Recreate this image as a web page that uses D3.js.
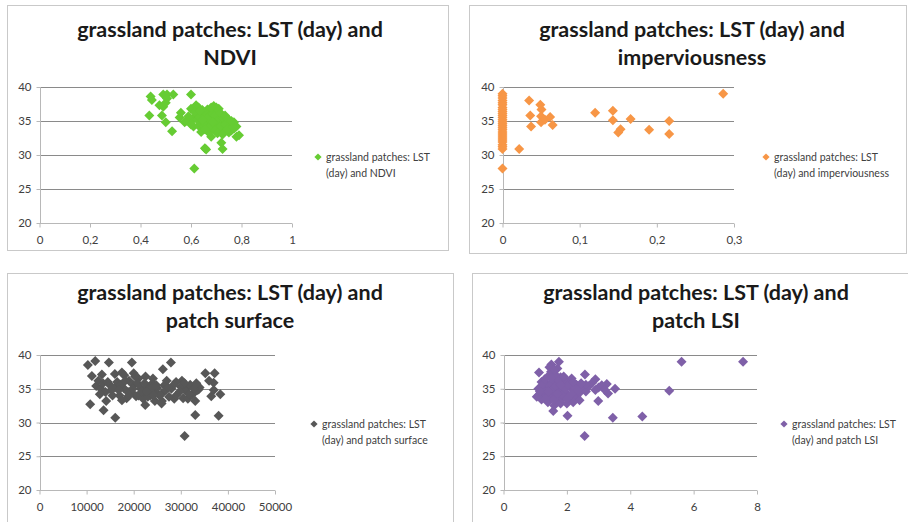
<!DOCTYPE html>
<html>
<head>
<meta charset="utf-8">
<script src="https://cdn.jsdelivr.net/npm/d3@7"></script>
<style>
  body { margin: 0; background: #fff; }
  svg { display: block; }
</style>
</head>
<body>
<svg id="chart" width="908" height="522"></svg>
<script>
// LST (day) of grassland patches against four landscape variables
const ndviPts = [
  [0.44,38.6],[0.445,38.1],[0.435,35.8],[0.49,38.9],[0.505,38.9],[0.53,38.9],[0.475,37.3],[0.49,37.1],
  [0.5,37.7],[0.505,38.3],[0.485,35.8],[0.5,34.8],[0.525,33.5],[0.6,38.9],[0.56,36.2],[0.555,35.5],
  [0.575,34.8],[0.61,34.2],[0.613,28.0],[0.655,31.0],[0.66,30.8],[0.72,31.8],[0.725,30.9],[0.78,32.7],
  [0.79,32.9],[0.68,32.7],[0.6,36.8],[0.62,37.3],[0.63,37.0],[0.61,35.3],[0.69,37.2],[0.71,36.8],
  [0.68,36.3],[0.64,36.0],[0.65,35.5],[0.66,35.0],[0.67,34.5],[0.7,34.0],[0.72,33.5],[0.74,34.2],
  [0.76,34.5],[0.77,33.9],[0.75,33.3],[0.73,35.0],[0.7,35.6],[0.69,35.0],[0.66,34.0],[0.64,34.8],
  [0.62,35.8],[0.63,34.3],[0.68,33.8],[0.71,34.7],[0.75,35.2],[0.72,36.0],[0.7,36.5],[0.665,36.7],
  [0.58,35.0],[0.59,35.7],[0.6,34.5],[0.67,33.3],[0.73,33.8],[0.76,33.6],[0.74,34.8],[0.65,34.2],
  [0.68,35.3],[0.71,35.2],[0.69,34.4],[0.64,33.4],[0.72,34.5],[0.755,34.0],[0.66,36.1],[0.675,35.8],
  [0.78,34.2],[0.77,34.8],
  [0.615,36.3],[0.625,35.2],[0.635,35.6],[0.645,36.6],[0.655,34.6],[0.665,35.4],[0.675,34.2],
  [0.685,36.0],[0.695,35.8],[0.705,35.0],[0.715,34.2],[0.725,35.5],[0.735,34.5],[0.745,33.8],
  [0.765,34.1],[0.695,33.6],[0.705,33.2],[0.715,36.2],[0.725,33.0],[0.685,34.8],[0.655,33.8],
  [0.645,35.2],[0.735,35.8],[0.745,35.3],[0.76,35.0],[0.7,37.0],[0.68,37.0],[0.635,36.5]
];

const impervPts = [
  [0,39.0],[0,38.7],[0,38.4],[0,38.0],[0,37.7],[0,37.4],[0,37.0],[0,36.7],[0,36.4],[0,36.1],
  [0,35.8],[0,35.5],[0,35.2],[0,34.9],[0,34.6],[0,34.3],[0,34.0],[0,33.7],[0,33.4],[0,33.1],
  [0,32.8],[0,32.5],[0,32.2],[0,31.9],[0,31.5],[0,31.2],[0,30.9],[0,28.0],
  [0.0345,38.0],[0.036,35.8],[0.037,34.2],[0.0216,30.9],[0.049,37.4],[0.0505,36.7],[0.05,35.7],
  [0.05,34.8],[0.055,35.2],[0.0617,35.6],[0.065,34.4],[0.12,36.2],[0.143,36.5],[0.143,35.1],
  [0.15,33.3],[0.153,33.8],[0.166,35.3],[0.19,33.7],[0.216,35.0],[0.216,33.1],[0.286,39.0]
];

const surfacePts = [
  [10270,38.5],[11830,39.1],[10760,32.7],[11120,36.9],[12040,35.4],[13600,31.8],[14160,33.2],
  [13240,37.1],[14730,38.9],[16080,30.7],[17490,37.4],[19610,38.9],[22450,32.6],[24080,36.5],
  [26200,37.9],[27900,38.9],[25920,32.8],[28610,33.5],[30810,28.0],[35200,37.3],[37180,37.3],
  [36470,33.9],[38030,31.0],[38390,34.2],[33070,31.1],[33070,33.2],[30240,36.2],[31300,35.2],
  [36970,35.9],[33780,34.9],
  [13000,35.0],[14000,34.5],[15000,35.5],[16000,35.2],[16500,36.0],[17000,34.0],[18000,35.0],
  [18500,33.6],[19000,36.2],[19500,34.5],[20000,35.5],[20500,33.9],[21000,36.5],[21500,35.0],
  [22000,34.2],[22500,36.8],[23000,35.3],[23500,34.0],[24000,35.8],[24500,34.6],[25000,35.1],
  [26000,34.3],[26500,35.5],[27000,36.2],[27500,33.8],[28000,35.0],[29000,36.0],[30000,35.3],
  [31000,34.7],[32000,35.6],[32500,34.2],[33500,34.8],[34000,35.2],[16000,37.2],[18000,37.0],
  [20000,37.3],[12500,36.2],[15500,34.0],[17500,33.3],[22000,33.5],[24500,33.2],[26000,33.2],
  [30500,33.6],[29000,34.0],[31500,33.5],[13500,35.8],[19000,34.0],[21000,34.0],[23000,33.8],
  [14500,36.0],[15200,34.8],[17200,35.6],[18200,36.2],[18800,34.5],[19800,35.0],[20800,35.8],
  [21800,34.6],[22800,34.6],[23800,35.2],[24800,35.5],[25500,34.0],[26800,34.8],[28500,35.6],
  [30800,35.8],[31800,34.2],[32800,35.0],[12800,34.2],[16800,34.8],[20300,36.8],[22300,35.8],
  [24200,34.0],[27300,35.2],[29800,34.6],[33300,35.8],[37000,34.8],[36000,36.2]
];

const lsiPts = [
  [1.12,37.4],[1.51,38.6],[1.75,39.0],[1.57,31.7],[2.02,31.0],[2.56,28.0],[2.57,37.1],[2.99,33.2],
  [3.3,34.3],[3.52,35.0],[3.45,30.7],[4.38,30.9],[5.23,34.7],[5.62,39.0],[7.56,39.0],[2.9,36.4],
  [3.26,35.7],
  [1.1,35.0],[1.1,34.0],[1.2,33.4],[1.2,36.0],[1.3,35.5],[1.3,34.3],[1.4,36.8],[1.4,33.0],
  [1.5,37.5],[1.5,35.0],[1.5,33.8],[1.6,36.2],[1.6,34.5],[1.6,32.5],[1.7,35.7],[1.7,33.3],
  [1.8,36.7],[1.8,34.8],[1.8,32.8],[1.9,35.2],[1.9,33.9],[2.0,36.0],[2.0,34.3],[2.0,32.8],
  [2.1,35.5],[2.1,33.5],[2.2,34.8],[2.3,35.6],[2.3,33.8],[2.4,34.4],[2.5,35.2],[2.6,34.6],
  [2.7,35.4],[2.8,35.9],[2.9,34.8],[3.0,35.2],[3.1,35.5],[3.2,34.8],[1.25,34.8],[1.35,35.8],
  [1.45,34.2],[1.55,36.0],[1.65,37.0],[1.75,35.0],[1.85,33.5],[1.95,36.3],[2.15,36.5],
  [1.05,33.8],[2.4,33.3],[2.2,33.0],[1.7,38.0],[1.45,38.2],[1.6,37.8],
  [1.15,34.6],[1.25,35.6],[1.35,33.6],[1.45,35.4],[1.55,34.8],[1.65,35.4],[1.75,36.2],
  [1.85,34.2],[1.95,35.0],[2.05,35.6],[2.15,34.2],[2.25,35.2],[2.35,34.8],[1.4,34.6],
  [1.6,33.4],[1.8,35.6],[2.0,33.6],[1.3,36.4],[1.9,36.8],[2.2,36.0],[1.5,36.6],[1.7,34.2],
  [2.6,35.6],[2.45,35.8]
];

const lstTicks = [20, 25, 30, 35, 40];
const ndviTicks = [0, 0.2, 0.4, 0.6, 0.8, 1];
const impervTicks = [0, 0.1, 0.2, 0.3];
const surfaceTicks = [0, 10000, 20000, 30000, 40000, 50000];
const lsiTicks = [0, 2, 4, 6, 8];

const titleLine1 = 'grassland patches: LST (day) and';
const legendLine1 = 'grassland patches: LST';

const panels = [
  {data: ndviPts, xTicks: ndviTicks, color: '#66cc33', sub: 'NDVI', leg: '(day) and NDVI',
   frame: [7, 5, 448, 250], plot: [39.5, 87, 292, 223], titleX: 230, titleY: 37, legX: 318, legY: 157},
  {data: impervPts, xTicks: impervTicks, color: '#f79646', sub: 'imperviousness', leg: '(day) and imperviousness',
   frame: [469, 5, 906, 253], plot: [502.5, 87, 734, 223], titleX: 692, titleY: 37, legX: 766, legY: 157},
  {data: surfacePts, xTicks: surfaceTicks, color: '#575757', sub: 'patch surface', leg: '(day) and patch surface',
   frame: [7, 273, 453, 530], plot: [39.5, 355, 275, 490], titleX: 230, titleY: 300, legX: 314, legY: 424},
  {data: lsiPts, xTicks: lsiTicks, color: '#7f60a8', sub: 'patch LSI', leg: '(day) and patch LSI',
   frame: [472, 273, 912, 530], plot: [503.5, 355, 757, 490], titleX: 696, titleY: 300, legX: 784, legY: 424}
];

const locale = d3.formatLocale({decimal: ',', thousands: '', grouping: [3], currency: ['', '']});
const fmt = locale.format('');

const svg = d3.select('#chart');
const diamond = d3.symbol(d3.symbolSquare, 50);
const smallDiamond = d3.symbol(d3.symbolSquare, 26);

panels.forEach(p => {
  const g = svg.append('g');
  const [fx0, fy0, fx1, fy1] = p.frame;
  const [px0, py0, px1, py1] = p.plot;

  g.append('rect')
    .attr('x', fx0 + 0.5).attr('y', fy0 + 0.5)
    .attr('width', fx1 - fx0).attr('height', fy1 - fy0)
    .attr('fill', '#fff').attr('stroke', '#c9c9c9');

  const x = d3.scaleLinear().domain(d3.extent(p.xTicks)).range([px0, px1]);
  const y = d3.scaleLinear().domain(d3.extent(lstTicks)).range([py1, py0]);

  // gridlines
  g.selectAll('.grid').data(lstTicks.slice(1)).enter().append('line')
    .attr('x1', px0).attr('x2', px1)
    .attr('y1', d => Math.round(y(d)) + 0.5).attr('y2', d => Math.round(y(d)) + 0.5)
    .attr('stroke', '#8a8a8a');

  // y axis
  const ya = g.append('g').attr('transform', `translate(${Math.round(px0) + 0.5},0)`)
    .call(d3.axisLeft(y).tickValues(lstTicks).tickSize(4).tickFormat(d3.format('d')));
  // x axis
  const xa = g.append('g').attr('transform', `translate(0,${Math.round(py1) + 0.5})`)
    .call(d3.axisBottom(x).tickValues(p.xTicks).tickSize(4).tickFormat(fmt));

  [ya, xa].forEach(a => {
    a.select('.domain').attr('stroke', '#b8b8b8');
    a.selectAll('.tick line').attr('stroke', '#b8b8b8');
    a.selectAll('.tick text').attr('fill', '#404040')
      .style('font-family', 'Lato, "Open Sans", sans-serif').style('font-size', '11.5px');
  });
  ya.selectAll('.tick text').attr('x', -9);
  xa.selectAll('.tick text').attr('y', 12);
  ya.select('.domain').attr('d', `M0,${py1}V${py0}`);
  xa.select('.domain').attr('d', `M${px0},0H${px1}`);

  // points
  g.selectAll('.pt').data(p.data).enter().append('path')
    .attr('d', diamond)
    .attr('transform', d => `translate(${x(d[0])},${y(d[1])}) rotate(45)`)
    .attr('fill', p.color);

  // title
  const t = g.append('text')
    .attr('x', p.titleX).attr('y', p.titleY)
    .attr('text-anchor', 'middle')
    .style('font-family', 'Lato, "Open Sans", sans-serif')
    .style('font-weight', 'bold').style('font-size', '21.5px').attr('fill', '#1a1a1a');
  t.append('tspan').attr('x', p.titleX).text(titleLine1);
  t.append('tspan').attr('x', p.titleX).attr('dy', 28).text(p.sub);

  // legend
  g.append('path').attr('d', smallDiamond)
    .attr('transform', `translate(${p.legX},${p.legY}) rotate(45)`)
    .attr('fill', p.color);
  const lt = g.append('text')
    .attr('x', p.legX + 8).attr('y', p.legY + 4)
    .style('font-family', 'Lato, "Open Sans", sans-serif')
    .style('font-size', '10.5px').attr('fill', '#404040');
  lt.append('tspan').attr('x', p.legX + 8).text(legendLine1);
  lt.append('tspan').attr('x', p.legX + 8).attr('dy', 15.5).text(p.leg);
});
</script>
</body>
</html>
